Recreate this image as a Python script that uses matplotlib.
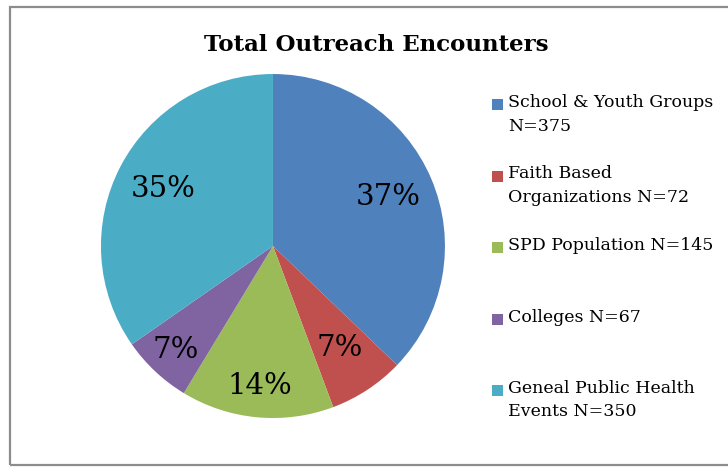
import matplotlib
matplotlib.use('Agg')
import matplotlib.pyplot as plt
from matplotlib.patches import Rectangle

categories = ["School & Youth Groups\nN=375",
              "Faith Based\nOrganizations N=72",
              "SPD Population N=145",
              "Colleges N=67",
              "Geneal Public Health\nEvents N=350"]
counts = [375, 72, 145, 67, 350]
colors = ['#4F81BD', '#C0504D', '#9BBB59', '#8064A2', '#4BACC6']
label_dist = [0.73, 0.71, 0.82, 0.83, 0.72]  # where Excel put the % labels

plt.rcParams['font.family'] = 'DejaVu Serif'

fig = plt.figure(figsize=(7.28, 4.70), dpi=100)

# grey frame around the chart area
fig.patches.append(Rectangle((10/728, 5/470), 730/728, 458/470, transform=fig.transFigure,
                             fill=False, edgecolor='#8c8c8c', linewidth=1.6))

ax = fig.add_axes([0.1387, 0.1106, 0.4725, 0.7319])
wedges, texts, autotexts = ax.pie(counts, colors=colors, startangle=90, counterclock=False,
                                  autopct='%1.0f%%', pctdistance=0.75,
                                  wedgeprops={'edgecolor': 'none'},
                                  textprops={'fontsize': 21, 'color': 'black'})
for t, d in zip(autotexts, label_dist):
    x, y = t.get_position()
    r = (x**2 + y**2) ** 0.5
    t.set_position((x / r * d, y / r * d))
ax.set_xlim(-1, 1)
ax.set_ylim(-1, 1)
ax.set_aspect('equal')

fig.text(376/728, 1 - 45/470, "Total Outreach Encounters", ha='center', va='center',
         fontsize=16.5, fontweight='bold')

# legend, drawn by hand to get Excel's spacing
for i in range(len(categories)):
    ytop = 1 - (99 + i * 71.5) / 470
    fig.patches.append(Rectangle((492/728, ytop - 11/470), 11/728, 11/470,
                                 transform=fig.transFigure, facecolor=colors[i], edgecolor='none'))
    fig.text(508/728, ytop + 5/470, categories[i], ha='left', va='top', fontsize=12.5,
             linespacing=1.5)

plt.savefig('out.png', dpi=100)
